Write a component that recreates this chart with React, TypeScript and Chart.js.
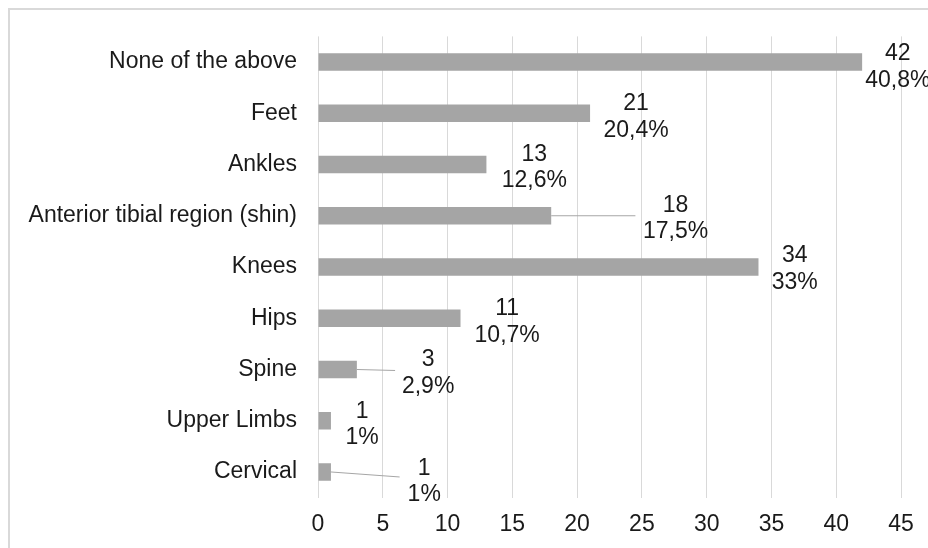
import React, { useEffect, useRef } from "react";
import { Chart, registerables } from "chart.js";

Chart.register(...registerables);

const categories = [
  "None of the above",
  "Feet",
  "Ankles",
  "Anterior tibial region (shin)",
  "Knees",
  "Hips",
  "Spine",
  "Upper Limbs",
  "Cervical",
];
const counts = [42, 21, 13, 18, 34, 11, 3, 1, 1];
const percents = ["40,8%", "20,4%", "12,6%", "17,5%", "33%", "10,7%", "2,9%", "1%", "1%"];
const xMin = 0;
const xMax = 45;
const xStep = 5;

// Manually placed data-label anchors (axis units), as in the source chart
const labelAnchor = [44.75, 24.55, 16.7, 27.6, 36.8, 14.6, 8.5, 3.4, 8.2];
const labelShiftY = [-2, -3, -4, -4, -5, -3, -3, -3, 3];
const leaderEnd: (number | null)[] = [null, null, null, 24.5, null, null, 5.95, null, 6.3];
const leaderDrop = [0, 0, 0, 0, 0, 0, 1, 0, 5];

const FONT = "'Liberation Sans', Arial, sans-serif";
const FONT_SIZE = 23;
const TEXT_COLOR = "#1a1a1a";

const framePlugin = {
  id: "frame",
  beforeDraw(chart: any) {
    const ctx = chart.ctx;
    ctx.save();
    ctx.fillStyle = "#ffffff";
    ctx.fillRect(0, 0, chart.width, chart.height);
    ctx.strokeStyle = "#d9d9d9";
    ctx.lineWidth = 2;
    ctx.beginPath();
    ctx.moveTo(9, chart.height);
    ctx.lineTo(9, 9);
    ctx.lineTo(chart.width, 9);
    ctx.stroke();
    ctx.restore();
  },
};

const labelPlugin = {
  id: "barLabels",
  afterDatasetsDraw(chart: any) {
    const ctx = chart.ctx;
    const xs = chart.scales.x;
    const ys = chart.scales.y;
    ctx.save();
    counts.forEach((v, i) => {
      const yc = ys.getPixelForValue(i);
      const barEnd = xs.getPixelForValue(v);
      const le = leaderEnd[i];
      if (le !== null) {
        ctx.strokeStyle = "#a6a6a6";
        ctx.lineWidth = 1;
        ctx.beginPath();
        ctx.moveTo(barEnd, yc);
        ctx.lineTo(xs.getPixelForValue(le), yc + leaderDrop[i]);
        ctx.stroke();
      }
      const cx = xs.getPixelForValue(labelAnchor[i]);
      const b1 = yc + labelShiftY[i];
      ctx.fillStyle = TEXT_COLOR;
      ctx.font = `${FONT_SIZE}px ${FONT}`;
      ctx.textAlign = "center";
      ctx.textBaseline = "alphabetic";
      ctx.fillText(String(v), cx, b1);
      ctx.fillText(percents[i], cx, b1 + 26.5);
    });
    ctx.restore();
  },
};

export default function App() {
  const ref = useRef<HTMLCanvasElement | null>(null);
  useEffect(() => {
    if (!ref.current) return;
    const chart = new Chart(ref.current, {
      type: "bar",
      data: {
        labels: categories,
        datasets: [
          {
            data: counts,
            backgroundColor: "#a5a5a5",
            borderWidth: 0,
            categoryPercentage: 1,
            barPercentage: 0.345,
          },
        ],
      },
      options: {
        indexAxis: "y",
        responsive: false,
        animation: false,
        devicePixelRatio: 1,
        layout: { padding: { left: 0, right: 27, top: 36.4, bottom: 0 } },
        plugins: {
          legend: { display: false },
          tooltip: { enabled: false },
        },
        scales: {
          x: {
            type: "linear",
            min: xMin,
            max: xMax,
            ticks: {
              stepSize: xStep,
              padding: 13.6,
              color: TEXT_COLOR,
              font: { family: FONT, size: FONT_SIZE },
              maxRotation: 0,
            },
            grid: { color: "#d9d9d9", lineWidth: 1, drawTicks: false },
            border: { display: false },
            afterFit(scale: any) {
              scale.height = 50.4;
            },
          },
          y: {
            type: "category",
            ticks: {
              padding: 21,
              color: TEXT_COLOR,
              font: { family: FONT, size: FONT_SIZE },
              autoSkip: false,
            },
            grid: { display: false, drawTicks: false },
            border: { display: false },
            afterFit(scale: any) {
              scale.width = 318;
            },
          },
        },
      },
      plugins: [framePlugin, labelPlugin],
    });
    return () => chart.destroy();
  }, []);
  return (
    <div style={{ position: "fixed", left: 0, top: 0, width: 928, height: 548, background: "#fff" }}>
      <canvas ref={ref} width={928} height={548} style={{ display: "block" }} />
    </div>
  );
}
